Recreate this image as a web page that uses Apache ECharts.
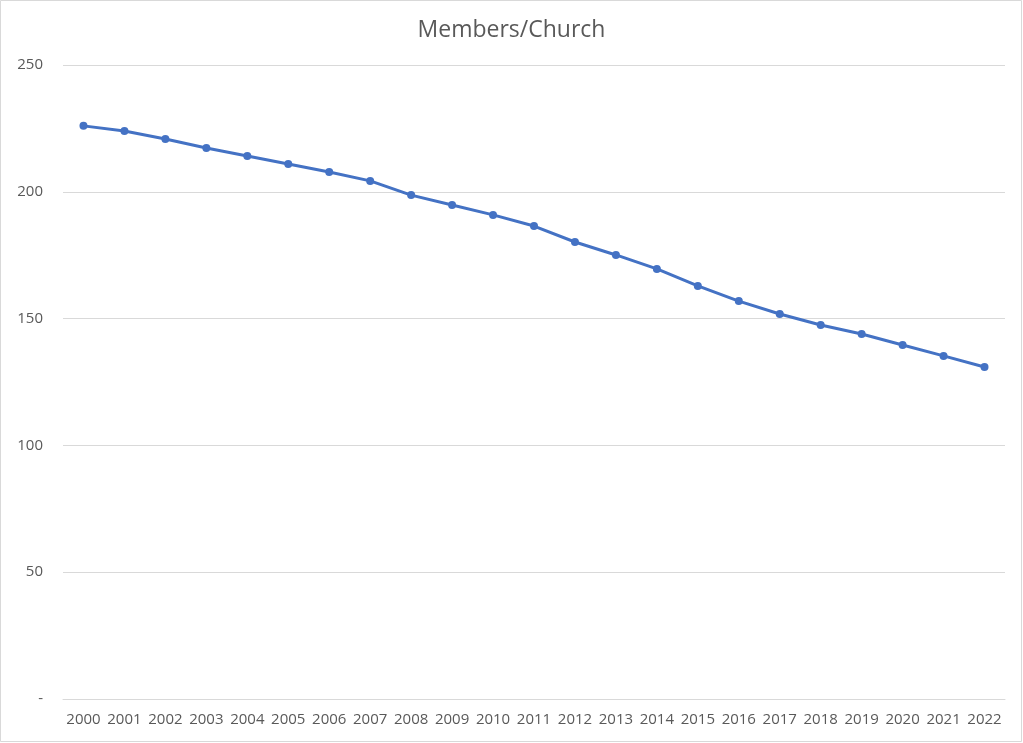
<!DOCTYPE html>
<html>
<head>
<meta charset="utf-8">
<script src="https://cdn.jsdelivr.net/npm/echarts@6/dist/echarts.min.js"></script>
<style>
html,body{margin:0;padding:0;background:#fff;}
#main{width:1023px;height:743px;}
</style>
</head>
<body>
<div id="main"></div>
<script>
const years = ['2000','2001','2002','2003','2004','2005','2006','2007','2008','2009','2010','2011','2012','2013','2014','2015','2016','2017','2018','2019','2020','2021','2022'];
const membersPerChurch = [226.0, 224.0, 220.8, 217.3, 214.1, 211.0, 207.8, 204.3, 198.7, 194.8, 190.9, 186.5, 180.2, 175.1, 169.6, 162.9, 156.9, 151.8, 147.5, 143.9, 139.6, 135.3, 130.9];
const yTicks = {min: 0, max: 250, interval: 50};

const chart = echarts.init(document.getElementById('main'));
chart.setOption({
  backgroundColor: '#ffffff',
  animation: false,
  title: {
    text: 'Members/Church',
    left: 'center',
    top: 14,
    textStyle: {fontFamily: 'Open Sans', fontSize: 23, fontWeight: 'normal', color: '#595959'}
  },
  graphic: [{
    type: 'rect',
    shape: {x: 0.5, y: 0.5, width: 1021, height: 741},
    style: {fill: 'none', stroke: '#d9d9d9', lineWidth: 1},
    silent: true
  }],
  grid: {left: 63, right: 18, top: 65, bottom: 44, containLabel: false},
  xAxis: {
    type: 'category',
    data: years,
    boundaryGap: true,
    axisLine: {show: true, lineStyle: {color: '#d9d9d9', width: 1}},
    axisTick: {show: false},
    axisLabel: {fontFamily: 'Open Sans', fontSize: 15, color: '#595959', margin: 13, interval: 0}
  },
  yAxis: {
    type: 'value',
    min: yTicks.min, max: yTicks.max, interval: yTicks.interval,
    axisLine: {show: false},
    axisTick: {show: false},
    splitLine: {lineStyle: {color: '#d9d9d9', width: 1}},
    axisLabel: {
      fontFamily: 'Open Sans', fontSize: 15, color: '#595959', margin: 20,
      formatter: v => v === 0 ? '-' : String(v)
    }
  },
  series: [{
    type: 'line',
    data: membersPerChurch,
    symbol: 'circle',
    symbolSize: 8,
    lineStyle: {color: '#4472C4', width: 3},
    itemStyle: {color: '#4472C4'}
  }]
});
</script>
</body>
</html>
